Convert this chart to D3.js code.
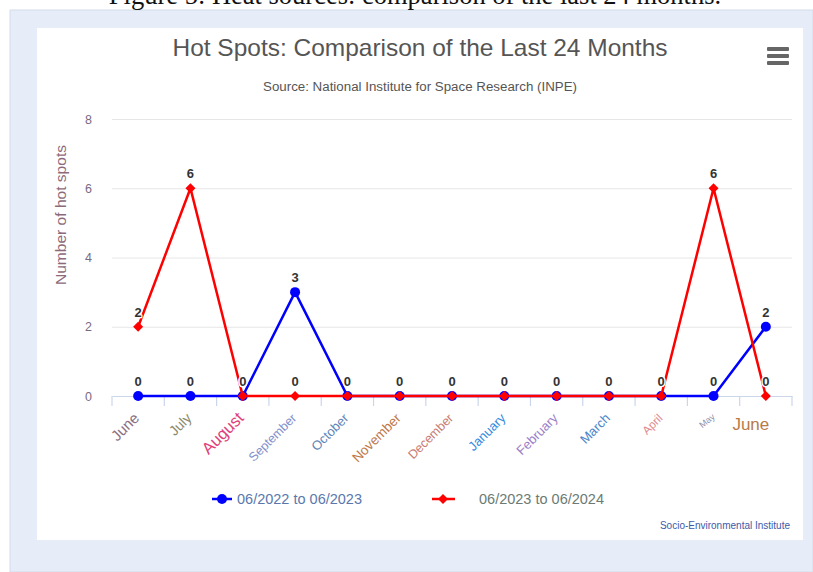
<!DOCTYPE html>
<html><head><meta charset="utf-8">
<script src="https://cdn.jsdelivr.net/npm/d3@7/dist/d3.min.js"></script>
<style>
html,body{margin:0;padding:0;background:#fff;overflow:hidden;}
svg{display:block;font-family:"Liberation Sans",Arial,sans-serif;}
</style></head>
<body>
<svg id="c" width="813" height="572"></svg>
<script>
// ---- data ----
const categories = ["June","July","August","September","October","November","December","January","February","March","April","May","June"];
const series1Name = "06/2022 to 06/2023";
const series2Name = "06/2023 to 06/2024";
const series1 = [0,0,0,3,0,0,0,0,0,0,0,0,2];
const series2 = [2,6,0,0,0,0,0,0,0,0,0,6,0];
const yTicks = [0,2,4,6,8];

// ---- label styles (kept separate from data) ----
const labelColors = ["#8a7082","#8a8a6c","#e0407a","#7f8fcc","#5f86b8","#c07848","#c87a70","#2f8ae0","#9a80c8","#4a86c8","#e08a90","#9090a8","#b87a48"];
const labelSizes  = [15,14,16.5,12.5,13,13.5,12.5,13,13,13,11.5,9,17];

const svg = d3.select("#c");

// page backgrounds
svg.append("rect").attr("x",10).attr("y",10).attr("width",803).attr("height",562).attr("fill","#e6edf9").attr("stroke","#d3dbea");
svg.append("rect").attr("x",37).attr("y",28).attr("width",766).attr("height",512).attr("fill","#ffffff");

// caption (cut at top)
svg.append("text").attr("x",415).attr("y",4).attr("text-anchor","middle")
  .attr("font-family","'Liberation Serif','Times New Roman',serif").attr("font-size",26.5).attr("fill","#111")
  .text("Figure 5: Heat sources: comparison of the last 24 months.");

// title / subtitle
svg.append("text").attr("x",420).attr("y",56).attr("text-anchor","middle").attr("font-size",24)
  .attr("textLength",495).attr("lengthAdjust","spacingAndGlyphs").attr("fill","#555")
  .text("Hot Spots: Comparison of the Last 24 Months");
svg.append("text").attr("x",420).attr("y",91).attr("text-anchor","middle").attr("font-size",12.5)
  .attr("textLength",314).attr("lengthAdjust","spacingAndGlyphs").attr("fill","#555")
  .text("Source: National Institute for Space Research (INPE)");

// hamburger
[49,56,63].forEach(yy=>svg.append("rect").attr("x",767).attr("y",yy-2).attr("width",22).attr("height",4).attr("rx",1).attr("fill","#666"));

// scales
const pLeft=112,pRight=792,pTop=119,pBottom=396;
const x = d3.scaleBand().domain(d3.range(categories.length)).range([pLeft,pRight]);
const y = d3.scaleLinear().domain([0,8]).range([pBottom,pTop]);
const cx = i => x(i)+x.bandwidth()/2;

// grid + y labels
const yAxis = d3.axisLeft(y).tickValues(yTicks).tickSize(-(pRight-pLeft)).tickPadding(20).tickFormat(d3.format("d"));
const gy = svg.append("g").attr("transform",`translate(${pLeft},0)`).call(yAxis);
gy.select(".domain").remove();
gy.selectAll(".tick line").attr("stroke","#e6e6e6");
gy.selectAll(".tick text").attr("fill","#7a6a82").attr("font-size",12.5).attr("font-family","'Liberation Sans',Arial,sans-serif");
gy.selectAll(".tick").filter(d=>d===0).select("line").remove();

// y title
svg.append("text").attr("transform","translate(66,215) rotate(-90)").attr("text-anchor","middle")
  .attr("font-size",14.5).attr("textLength",140).attr("lengthAdjust","spacingAndGlyphs")
  .attr("fill","#8c6a7a").text("Number of hot spots");

// x axis
const gx = svg.append("g").attr("transform",`translate(0,${pBottom})`).call(d3.axisBottom(x).tickSize(0).tickFormat(""));
gx.select(".domain").attr("stroke","#ccd6eb").attr("stroke-width",1.2);
gx.selectAll(".tick").remove();
gx.selectAll("line.t").data(d3.range(categories.length+1)).enter().append("line").attr("class","t")
  .attr("x1",i=>pLeft+i*x.step()).attr("x2",i=>pLeft+i*x.step()).attr("y1",0).attr("y2",10)
  .attr("stroke","#ccd6eb").attr("stroke-width",1.2);

// x labels
categories.forEach((c,i)=>{
  const last = i===categories.length-1;
  const t = svg.append("text").attr("fill",labelColors[i]).attr("font-size",labelSizes[i]).text(c);
  if(last){
    t.attr("x",cx(i)-15).attr("y",430).attr("text-anchor","middle");
  } else {
    t.attr("text-anchor","end").attr("transform",`translate(${cx(i)+2},${i===11?418:419}) rotate(${i===11?-38:-45})`);
  }
});

// lines
const line = d3.line().x((d,i)=>cx(i)).y(d=>y(d));
svg.append("path").datum(series1).attr("d",line).attr("fill","none").attr("stroke","#0000ff").attr("stroke-width",2.5);
svg.selectAll("circle.s1").data(series1).enter().append("circle").attr("class","s1")
  .attr("cx",(d,i)=>cx(i)).attr("cy",d=>y(d)).attr("r",5).attr("fill","#0000ff");
svg.append("path").datum(series2).attr("d",line).attr("fill","none").attr("stroke","#ff0000").attr("stroke-width",2.5);
const diamond = r=>`M0,${-r}L${r},0L0,${r}L${-r},0Z`;
svg.selectAll("path.s2").data(series2).enter().append("path").attr("class","s2")
  .attr("transform",(d,i)=>`translate(${cx(i)},${y(d)})`).attr("d",diamond(5)).attr("fill","#ff0000");

// data labels
[series1,series2].forEach(s=>{
  s.forEach((v,i)=>{
    svg.append("text").attr("x",cx(i)).attr("y",y(v)-10).attr("text-anchor","middle")
      .attr("font-size",13).attr("font-weight","bold").attr("fill","#333")
      .attr("stroke","#fff").attr("stroke-width",2.5).attr("paint-order","stroke").attr("stroke-linejoin","round")
      .text(v);
  });
});

// legend
const lg = svg.append("g");
lg.append("line").attr("x1",212).attr("x2",232).attr("y1",499).attr("y2",499).attr("stroke","#0000ff").attr("stroke-width",2.5);
lg.append("circle").attr("cx",222).attr("cy",499).attr("r",5).attr("fill","#0000ff");
lg.append("text").attr("x",237).attr("y",504).attr("font-size",14.5).attr("fill","#5a78ac").text(series1Name);
lg.append("line").attr("x1",432).attr("x2",455).attr("y1",499).attr("y2",499).attr("stroke","#ff0000").attr("stroke-width",2.5);
lg.append("path").attr("transform","translate(443,499)").attr("d",diamond(5)).attr("fill","#ff0000");
lg.append("text").attr("x",479).attr("y",504).attr("font-size",14.5).attr("fill","#6b7b73").text(series2Name);

// credits
svg.append("text").attr("x",790).attr("y",529).attr("text-anchor","end").attr("font-size",10).attr("fill","#3d5aa8")
  .text("Socio-Environmental Institute");
</script>
</body></html>
